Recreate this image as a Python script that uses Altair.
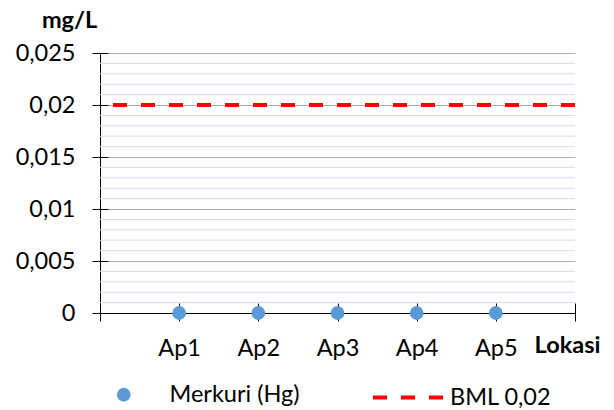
import altair as alt
import pandas as pd

# ---- data ----
categories = ["Ap1", "Ap2", "Ap3", "Ap4", "Ap5"]
positions = [1, 2, 3, 4, 5]
merkuri = [0, 0, 0, 0, 0]
bml_value = [0.02]
y_major = [0, 0.005, 0.01, 0.015, 0.02, 0.025]
y_minor = [0.001, 0.002, 0.003, 0.004, 0.006, 0.007, 0.008, 0.009,
           0.011, 0.012, 0.013, 0.014, 0.016, 0.017, 0.018, 0.019,
           0.021, 0.022, 0.023, 0.024]
x_ticks = [0, 1, 2, 3, 4, 5, 6]

FONT = "Lato"
FS = 23.5
label_expr_x = "[''," + ",".join("'%s'" % c for c in categories) + ",''][datum.value]"

xscale = alt.Scale(domain=[0, 6], nice=False, zero=False)
yscale = alt.Scale(domain=[0, 0.025], nice=False)

df_pts = pd.DataFrame({"pos": positions, "lokasi": categories,
                       "merkuri": merkuri, "series": "Merkuri (Hg)"})
df_bml = pd.DataFrame({"bml": bml_value, "series": "BML 0,02"})
df_minor = pd.DataFrame({"v": y_minor})

# minor gridlines (+ upward x ticks axis)
minor = alt.Chart(df_minor).mark_rule(color="#D0DCEF", strokeWidth=1).encode(
    y=alt.Y("v:Q", scale=yscale, axis=None),
    x=alt.X(datum=0, scale=xscale, axis=alt.Axis(
        orient="top", offset=-260, values=x_ticks, labels=False, domain=False,
        grid=False, ticks=True, tickSize=10, tickColor="#000000", title=None)),
    x2=alt.X2(datum=6),
)

points = alt.Chart(df_pts).mark_circle(size=190, opacity=1).encode(
    x=alt.X("pos:Q", scale=xscale, axis=alt.Axis(
        orient="bottom", values=x_ticks, labelExpr=label_expr_x,
        labelFont=FONT, labelFontSize=FS, labelColor="#000000",
        labelBaseline="alphabetic", labelPadding=34, labelFlush=False,
        tickSize=8, tickColor="#000000", domainColor="#000000",
        grid=False, title="Lokasi", titleFont=FONT, titleFontSize=FS,
        titleFontWeight="bold", titleColor="#000000", titleAngle=0,
        titleAlign="center", titleBaseline="alphabetic",
        titleX=467, titleY=39)),
    y=alt.Y("merkuri:Q", scale=yscale, axis=alt.Axis(
        orient="left", values=y_major,
        labelExpr="replace(toString(datum.value), '.', ',')",
        labelFont=FONT, labelFontSize=FS, labelColor="#000000",
        labelPadding=17, tickSize=8, tickColor="#000000",
        domainColor="#000000", grid=True, gridColor="#ABABAB",
        title="mg/L", titleFont=FONT, titleFontSize=FS, titleFontWeight="bold",
        titleColor="#000000", titleAngle=0, titleAlign="center",
        titleBaseline="alphabetic", titleX=-31, titleY=-26)),
    color=alt.Color("series:N", scale=alt.Scale(domain=["Merkuri (Hg)"], range=["#5B9BD5"]),
                    legend=alt.Legend(orient="none", legendX=12, legendY=330, title=None,
                                      symbolType="circle", symbolSize=190, symbolOpacity=1,
                                      labelFont=FONT, labelFontSize=FS, labelColor="#000000",
                                      labelOffset=34, padding=0)),
)

bml = alt.Chart(df_bml).mark_rule(color="#FF0000", strokeWidth=4).encode(
    y=alt.Y("bml:Q", scale=yscale, axis=alt.Axis(
        orient="right", offset=-475, values=y_major, labels=False, domain=False,
        grid=False, ticks=True, tickSize=8, tickColor="#000000", title=None)),
    strokeDash=alt.StrokeDash("series:N", scale=alt.Scale(domain=["BML 0,02"], range=[[14, 14]]),
                              legend=alt.Legend(orient="none", legendX=271, legendY=307, title=None,
                                                symbolType="stroke", symbolSize=5041,
                                                symbolStrokeColor="#FF0000", symbolStrokeWidth=4,
                                                labelFont=FONT, labelFontSize=FS,
                                                labelColor="#000000", labelOffset=4, padding=0)),
)

chart = alt.layer(minor, points, bml).resolve_axis(
    x="independent", y="independent"
).properties(
    width=475, height=260,
    autosize=alt.AutoSizeParams(type="none"),
    padding={"left": 100, "top": 53, "right": 39, "bottom": 97},
    background="#FFFFFF",
).configure_view(stroke=None)

chart.save("out.html", embed_options={"renderer": "svg", "actions": False})
